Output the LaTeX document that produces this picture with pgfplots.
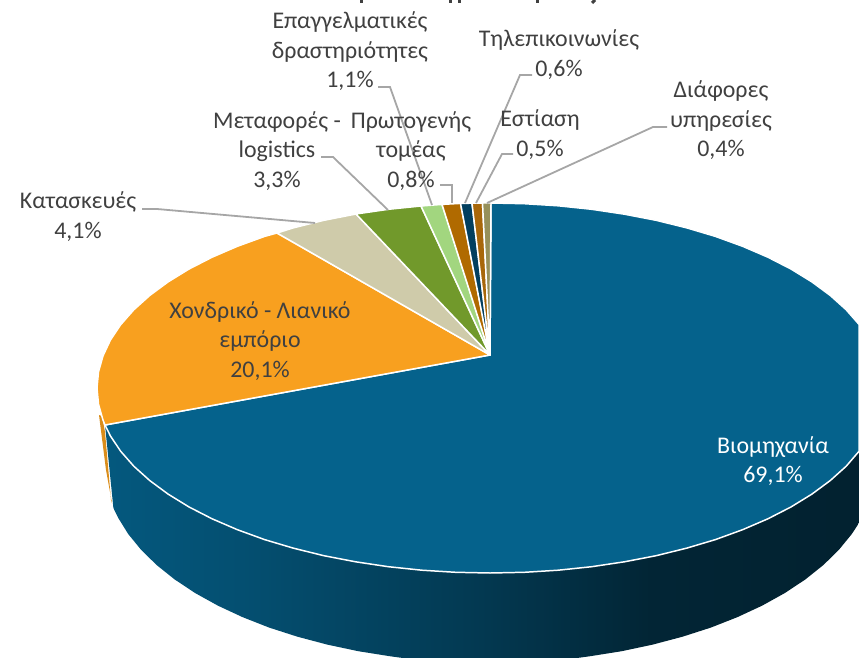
\documentclass[border=0pt]{standalone}
\usepackage{fontspec}
\setmainfont{Carlito}
\usepackage{pgfplots}
\pgfplotsset{compat=1.18}

\definecolor{txt}{HTML}{404040}
\definecolor{leader}{HTML}{A6A6A6}
\definecolor{cBio}{HTML}{05628C}
\definecolor{cEmp}{HTML}{F8A01F}
\definecolor{cKat}{HTML}{CFCBAA}
\definecolor{cMet}{HTML}{71992B}
\definecolor{cPro}{HTML}{A2D67F}
\definecolor{cEpa}{HTML}{B06A00}
\definecolor{cTil}{HTML}{023F5F}
\definecolor{cEst}{HTML}{A8670A}
\definecolor{cDia}{HTML}{96905A}

\pgfdeclarehorizontalshading{sideblue}{100bp}{
  color(0bp)=(cBio!90!black);
  color(25bp)=(cBio!90!black);
  color(34.6bp)=(cBio!80!black);
  color(49.9bp)=(cBio!58!black);
  color(61.1bp)=(cBio!38!black);
  color(75bp)=(cBio!34!black);
  color(100bp)=(cBio!34!black)}

\tikzset{
  lab/.style={font=\fontsize{24}{29.5}\selectfont, text=txt, align=center, inner sep=0pt},
  slice/.style={draw=white, line width=1.5pt, line join=round},
  lead/.style={draw=leader, line width=1.8pt},
}

\begin{document}
\begin{tikzpicture}
\begin{axis}[
    name=ax,
    scale only axis, width=859bp, height=658bp,
    xmin=0, xmax=859, ymin=0, ymax=658, y dir=reverse,
    hide axis,
  ]
  %% side wall of the big slice
  \addplot[shading=sideblue, shade, draw=none] coordinates {
    (105,425) (110.4,435.9) (120.7,451.3) (133.8,466.2) (149.7,480.5) (168.1,494.1)
    (188.9,506.9) (212.1,518.8) (237.4,529.7) (264.6,539.6) (293.5,548.2) (323.9,555.7)
    (355.6,561.8) (388.3,566.7) (421.8,570.2) (455.7,572.3) (490,573) (524.3,572.3)
    (558.2,570.2) (591.7,566.7) (624.4,561.8) (656.1,555.7) (686.5,548.2) (715.4,539.6)
    (742.6,529.7) (767.9,518.8) (791.1,506.9) (811.9,494.1) (830.3,480.5) (846.2,466.2)
    (859,451.3) (859,523) (851.8,534) (838.9,549.8) (823.4,565) (805.4,579.4)
    (784.9,593) (762.2,605.6) (737.5,617.1) (710.8,627.6) (682.5,636.7) (652.7,644.6)
    (621.7,651.2) (589.6,656.3) (577,658) (403,658) (390.4,656.3) (358.3,651.2)
    (327.3,644.6) (297.5,636.7) (269.2,627.6) (242.5,617.1) (217.8,605.6) (195.1,593)
    (174.6,579.4) (156.6,565) (141.1,549.8) (128.2,534) (118.1,517.7) (113.4,508)
  } -- cycle;
  %% orange sliver left of it
  \addplot[fill=cEmp!88!black, draw=none] coordinates {
    (99,415) (102,416) (105,432) (111,500) (112,503) (106,470)
  } -- cycle;
  %% top faces, hub at (490,355)
  \addplot[slice, fill=cBio] coordinates {
    (490,355) (491,203) (524.3,203.7) (558.2,205.8) (591.7,209.3) (624.4,214.2) (656.1,220.3)
    (686.5,227.8) (715.4,236.4) (742.6,246.3) (767.9,257.2) (791.1,269.1) (811.9,281.9)
    (830.3,295.5) (846.2,309.8) (859,324.4) (859,451.3) (846.2,466.2) (830.3,480.5)
    (811.9,494.1) (791.1,506.9) (767.9,518.8) (742.6,529.7) (715.4,539.6) (686.5,548.2)
    (656.1,555.7) (624.4,561.8) (591.7,566.7) (558.2,570.2) (524.3,572.3) (490,573)
    (455.7,572.3) (421.8,570.2) (388.3,566.7) (355.6,561.8) (323.9,555.7) (293.5,548.2)
    (264.6,539.6) (237.4,529.7) (212.1,518.8) (188.9,506.9) (168.1,494.1) (149.7,480.5)
    (133.8,466.2) (120.7,451.3) (110.4,435.9) (105,425)
  } -- cycle;
  \addplot[slice, fill=cEmp] coordinates {
    (490,355) (105,425) (103,420.1) (98.5,404.1) (97,388) (98.5,371.9) (103,355.9)
    (110.4,340.1) (120.7,324.7) (133.8,309.8) (149.7,295.5) (168.1,281.9) (188.9,269.1)
    (212.1,257.2) (237.4,246.3) (264.6,236.4) (277,233)
  } -- cycle;
  \addplot[slice, fill=cKat] coordinates {
    (490,355) (277,233) (293.5,227.8) (323.9,220.3) (356,214)
  } -- cycle;
  \addplot[slice, fill=cMet] coordinates {
    (490,355) (356,214) (388.3,209.3) (421,206)
  } -- cycle;
  \addplot[slice, fill=cPro] coordinates {(490,355) (421,206) (442,204.4)} -- cycle;
  \addplot[slice, fill=cEpa] coordinates {(490,355) (442,204.4) (460.5,203.4)} -- cycle;
  \addplot[slice, fill=cTil] coordinates {(490,355) (460.5,203.4) (472,203.2)} -- cycle;
  \addplot[slice, fill=cEst] coordinates {(490,355) (472,203.2) (482.5,203)} -- cycle;
  \addplot[slice, fill=cDia] coordinates {(490,355) (482.5,203) (491,203)} -- cycle;

  %% leader lines
  \addplot[lead] coordinates {(142,209) (157,209) (315,223)};
  \addplot[lead] coordinates {(321,157) (333,157) (388,210)};
  \addplot[lead] coordinates {(378,87) (390,87) (432,205)};
  \addplot[lead] coordinates {(440,185) (452,185) (452,203)};
  \addplot[lead] coordinates {(532,75) (520,75) (465,203)};
  \addplot[lead] coordinates {(513,154) (502,154) (476,203)};
  \addplot[lead] coordinates {(667,127) (653,127) (487,203)};

  %% what is left of the cropped title
  \addplot[txt, line width=3pt] coordinates {(361,0) (361,3)};
  \addplot[txt, line width=3pt] coordinates {(450,0) (450,3)};
  \addplot[txt, line width=3pt] coordinates {(459,0) (459,3)};
  \addplot[txt, line width=3pt] coordinates {(537,0) (537,3)};
  \addplot[txt, line width=3pt] coordinates {(595,0) (592,3)};

  %% labels
  \node[lab] at (axis cs:350,51.5) {Επαγγελματικές\\δραστηριότητες\\1,1\%};
  \node[lab] at (axis cs:559,54.5) {Τηλεπικοινωνίες\\0,6\%};
  \node[lab] at (axis cs:277,151) {Μεταφορές -\\logistics\\3,3\%};
  \node[lab] at (axis cs:411,151) {Πρωτογενής\\τομέας\\0,8\%};
  \node[lab] at (axis cs:540,134.5) {Εστίαση\\0,5\%};
  \node[lab] at (axis cs:721,120.5) {Διάφορες\\υπηρεσίες\\0,4\%};
  \node[lab] at (axis cs:78,216.5) {Κατασκευές\\4,1\%};
  \node[lab] at (axis cs:260,341) {Χονδρικό - Λιανικό\\εμπόριο\\20,1\%};
  \node[lab, text=white] at (axis cs:773,461) {Βιομηχανία\\69,1\%};
\end{axis}
\pgfresetboundingbox
\useasboundingbox (ax.south west) rectangle (ax.north east);
\end{tikzpicture}
\end{document}
